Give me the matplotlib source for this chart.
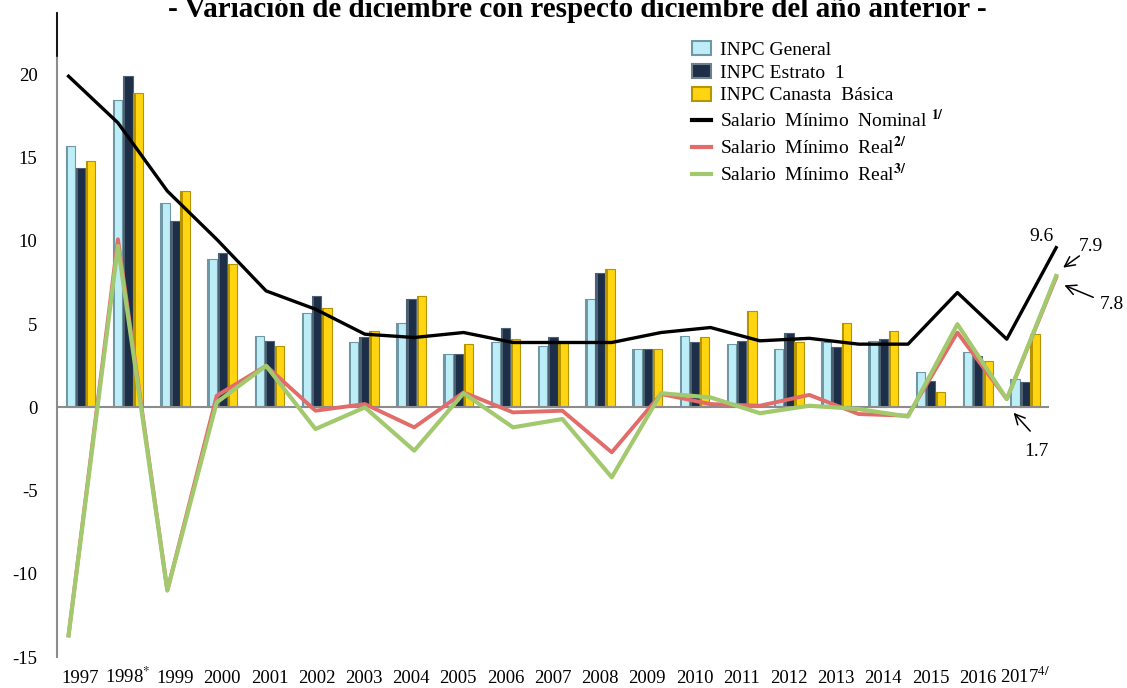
import numpy as np
import matplotlib
matplotlib.use('Agg')
import matplotlib.pyplot as plt
from matplotlib.patches import Patch
from matplotlib.lines import Line2D

plt.rcParams['font.family'] = ['Liberation Serif', 'DejaVu Serif']
plt.rcParams['mathtext.fontset'] = 'stix'

# data
years = ['1997', '1998$^{*}$', '1999', '2000', '2001', '2002', '2003', '2004', '2005',
         '2006', '2007', '2008', '2009', '2010', '2011', '2012', '2013', '2014',
         '2015', '2016', '2017$^{4/}$']

inpc_general = [15.7, 18.5, 12.3, 8.9, 4.3, 5.7, 3.9, 5.1, 3.2, 3.9, 3.7, 6.5, 3.5,
                4.3, 3.8, 3.5, 3.9, 4.0, 2.1, 3.3, 1.7]
inpc_estrato1 = [14.4, 19.9, 11.2, 9.3, 4.0, 6.7, 4.2, 6.5, 3.2, 4.8, 4.2, 8.1, 3.5,
                 3.9, 4.0, 4.5, 3.6, 4.1, 1.6, 3.1, 1.5]
inpc_canasta = [14.8, 18.9, 13.0, 8.6, 3.7, 6.0, 4.6, 6.7, 3.8, 4.1, 3.9, 8.3, 3.5,
                4.2, 5.8, 3.9, 5.1, 4.6, 0.9, 2.8, 4.4]

sm_nominal = [19.9, 17.1, 13.0, 10.1, 7.0, 5.9, 4.4, 4.2, 4.5, 3.9, 3.9, 3.9, 4.5,
              4.8, 4.0, 4.15, 3.8, 3.8, 6.9, 4.1, 9.6]
sm_real2 = [-13.7, 10.1, -11.0, 0.7, 2.5, -0.2, 0.2, -1.2, 0.9, -0.3, -0.2, -2.7, 0.8,
            0.2, 0.1, 0.75, -0.4, -0.5, 4.5, 0.5, 7.8]
sm_real3 = [-13.7, 9.7, -11.0, 0.3, 2.5, -1.3, 0.0, -2.6, 0.85, -1.2, -0.7, -4.2, 0.85,
            0.6, -0.35, 0.1, -0.1, -0.55, 5.0, 0.5, 7.9]

yticks = [20, 15, 10, 5, 0, -5, -10, -15]

TITLE = '- Variación de diciembre con respecto diciembre del año anterior -'

fig = plt.figure(figsize=(11.27, 6.88), dpi=100)
ax = fig.add_axes([57 / 1127, 1 - 657 / 688, (1048.6 - 57) / 1127, 644 / 688])

x = np.arange(len(years))
w = 0.2
sw = 0.05

# bar series: face colour, bevel colour
series = [
    (inpc_general, -0.215, '#bdeef8', '#6f97a4'),
    (inpc_estrato1, 0.0, '#1d2f48', '#4e6173'),
    (inpc_canasta, 0.215, '#ffd410', '#b59400'),
]
for vals, off, face, edge in series:
    ax.bar(x + off, vals, width=w, color=face, edgecolor=edge, linewidth=0.8, zorder=2)
    # darker strip on the left side to give the bevelled look
    ax.bar(x + off - w / 2 + sw / 2, vals, width=sw, color=edge, linewidth=0, zorder=2)

ax.axhline(0, color='#8c8c8c', lw=1.5, zorder=3)

# line series sit on a stretched category scale (Excel secondary axis look)
xl = np.linspace(-0.255, 20.66, len(sm_nominal))
ax.plot(xl, sm_nominal, color='black', lw=2.4, zorder=5, clip_on=False)
ax.plot(xl, sm_real2, color='#e26c6a', lw=2.8, zorder=5, clip_on=False)
ax.plot(xl, sm_real3, color='#a3c96e', lw=3.0, zorder=6, clip_on=False)

ax.set_xlim(-0.5, 20.5)
ax.set_ylim(-15, 23.7)
ax.set_xticks(x)
ax.set_xticklabels(years, fontsize=13.5)
for lab in ax.get_xticklabels():
    lab.set_verticalalignment('baseline')
ax.set_yticks(yticks)
ax.set_yticklabels([str(t) for t in yticks], fontsize=13.5)
ax.tick_params(axis='both', length=0)
ax.tick_params(axis='x', pad=19)
ax.tick_params(axis='y', pad=14)

for s in ['top', 'right', 'bottom']:
    ax.spines[s].set_visible(False)
ax.spines['left'].set_color('#8c8c8c')
ax.spines['left'].set_linewidth(1.5)
ax.plot([-0.5, -0.5], [21.1, 23.7], color='black', lw=1.2, clip_on=False, zorder=7)

# value call-outs
arrow = dict(arrowstyle='->', lw=1.1, color='black', mutation_scale=18)
ax.text(20.34, 9.75, '9.6', fontsize=14, ha='center', va='bottom')
ax.text(21.4, 9.64, '7.9', fontsize=14, ha='center', va='center')
ax.annotate('', xy=(20.76, 8.3), xytext=(21.2, 9.2), arrowprops=arrow, annotation_clip=False)
ax.text(21.85, 6.2, '7.8', fontsize=14, ha='center', va='center')
ax.annotate('', xy=(20.78, 7.4), xytext=(21.5, 6.55), arrowprops=arrow, annotation_clip=False)
ax.text(20.25, -2.65, '1.7', fontsize=14, ha='center', va='center')
ax.annotate('', xy=(19.72, -0.2), xytext=(20.15, -1.55), arrowprops=arrow, annotation_clip=False)

handles = [
    Patch(facecolor='#bdeef8', edgecolor='#6f97a4', lw=1.5),
    Patch(facecolor='#1d2f48', edgecolor='#6f7f8c', lw=1.5),
    Patch(facecolor='#ffd410', edgecolor='#b59400', lw=1.5),
    Line2D([], [], color='black', lw=3),
    Line2D([], [], color='#e26c6a', lw=3),
    Line2D([], [], color='#a3c96e', lw=3),
]
labels = [
    'INPC General',
    'INPC Estrato  1',
    'INPC Canasta  Básica',
    'Salario  Mínimo  Nominal $^{\\mathbf{1/}}$',
    'Salario  Mínimo  Real$^{\\mathbf{2/}}$',
    'Salario  Mínimo  Real$^{\\mathbf{3/}}$',
]
fig.legend(handles, labels, loc='upper left', bbox_to_anchor=(692 / 1127, 1 - 41 / 688),
           frameon=False, fontsize=14, handlelength=1.0, handleheight=0.75,
           handletextpad=0.45, labelspacing=0.25, borderpad=0, borderaxespad=0)

fig.text(0.512, 1 - 17 / 688, TITLE, fontsize=21, fontweight='bold', ha='center',
         va='baseline')

fig.savefig('out.png', dpi=100)
